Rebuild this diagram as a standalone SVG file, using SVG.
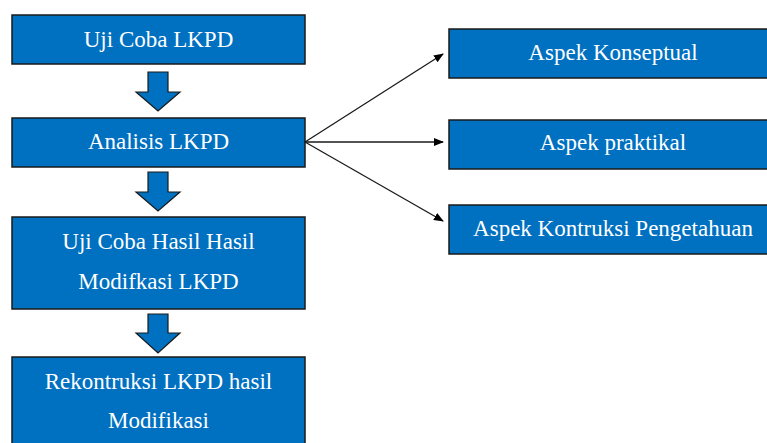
<svg xmlns="http://www.w3.org/2000/svg" width="767" height="443" viewBox="0 0 767 443">
<style>
.box{fill:#0070C0;stroke:#1a1a1a;stroke-width:1.5}
.bar{fill:#0070C0;stroke:#1a1a1a;stroke-width:1.2}
.t{font-family:"Liberation Serif","Times New Roman",serif;font-size:23px;fill:#ffffff;text-anchor:middle}
.c{stroke:#1a1a1a;stroke-width:1.3;fill:none}
</style>
<defs>
<marker id="ah" markerWidth="10" markerHeight="8" refX="9" refY="4" orient="auto" markerUnits="userSpaceOnUse">
<path d="M0,0 L10,4 L0,8 Z" fill="#000"/>
</marker>
</defs>
<rect width="767" height="443" fill="#ffffff"/>
<g id="n1"><rect class="box" x="12" y="15" width="293" height="49"/><text class="t" x="158.5" y="47">Uji Coba LKPD</text></g>
<g id="n2"><rect class="box" x="12" y="118" width="293" height="49"/><text class="t" x="158.5" y="149">Analisis LKPD</text></g>
<g id="n3"><rect class="box" x="12" y="217" width="293" height="92"/><text class="t" x="158.5" y="249">Uji Coba Hasil Hasil</text><text class="t" x="158.5" y="289">Modifkasi LKPD</text></g>
<g id="n4"><rect class="box" x="12" y="357" width="293" height="100"/><text class="t" x="158.5" y="389">Rekontruksi LKPD hasil</text><text class="t" x="158.5" y="428">Modifikasi</text></g>
<g id="n5"><rect class="box" x="449" y="29" width="330" height="49"/><text class="t" x="613" y="60">Aspek Konseptual</text></g>
<g id="n6"><rect class="box" x="449" y="120" width="330" height="49"/><text class="t" x="613" y="150">Aspek praktikal</text></g>
<g id="n7"><rect class="box" x="449" y="205" width="330" height="49"/><text class="t" x="613" y="236">Aspek Kontruksi Pengetahuan</text></g>
<g id="connectors">
<polygon class="bar" points="148,72 168,72 168,92 180,92 158,111 136,92 148,92"/>
<polygon class="bar" points="148,172 168,172 168,192 180,192 158,211 136,192 148,192"/>
<polygon class="bar" points="148,314 168,314 168,333 180,333 158,353 136,333 148,333"/>
<line class="c" x1="305" y1="142" x2="443" y2="54" marker-end="url(#ah)"/>
<line class="c" x1="305" y1="142" x2="443" y2="142" marker-end="url(#ah)"/>
<line class="c" x1="305" y1="142" x2="443" y2="221" marker-end="url(#ah)"/>
</g>
</svg>
